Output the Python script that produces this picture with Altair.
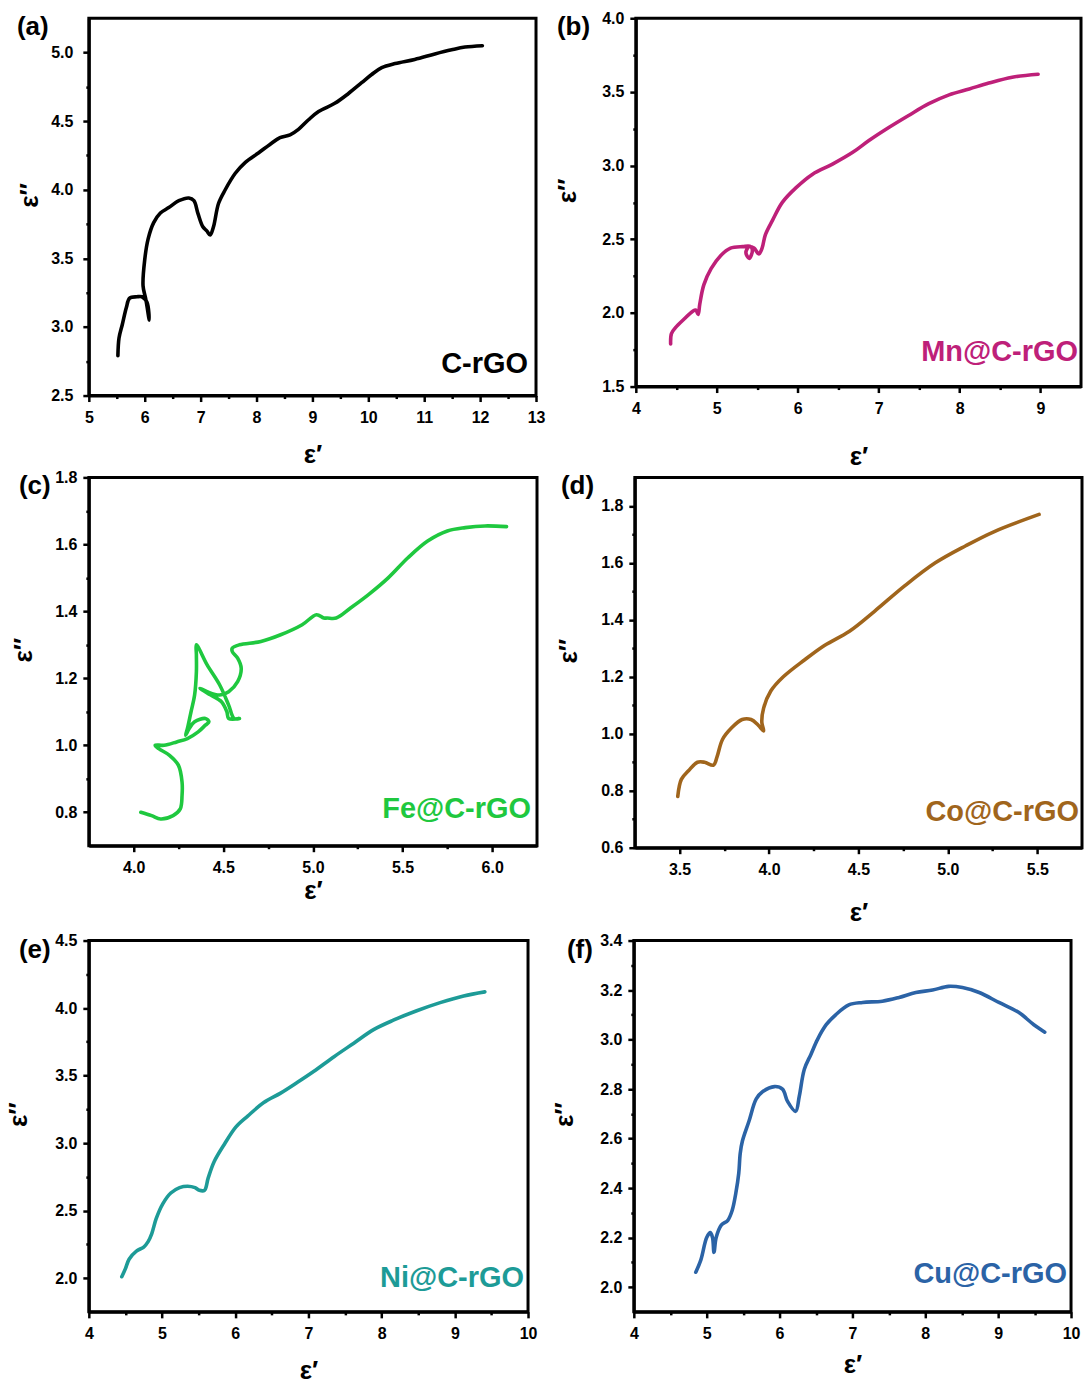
import altair as alt
import pandas as pd

FONT = "Liberation Sans"

# ---------------- data ----------------
a_x = [5.52,5.54,5.60,5.67,5.73,5.86,5.95,6.04,6.08,6.02,5.97,6.00,6.06,6.16,6.28,6.43,6.61,6.79,6.88,6.95,
       7.04,7.11,7.17,7.23,7.32,7.44,7.62,7.80,8.04,8.24,8.42,8.60,8.75,8.93,9.11,9.40,9.64,9.88,10.06,10.24,
       10.48,10.83,11.19,11.49,11.73,12.04]
a_y = [2.79,2.92,3.02,3.14,3.21,3.22,3.22,3.18,3.05,3.20,3.30,3.49,3.64,3.76,3.83,3.87,3.92,3.94,3.92,3.83,
       3.73,3.70,3.67,3.73,3.90,4.00,4.12,4.20,4.27,4.33,4.38,4.40,4.44,4.51,4.57,4.63,4.70,4.78,4.84,4.89,
       4.92,4.95,4.99,5.02,5.04,5.05]

b_x = [4.43,4.44,4.49,4.60,4.70,4.74,4.77,4.79,4.84,4.93,5.05,5.17,5.32,5.42,5.44,5.40,5.36,5.40,5.46,5.52,
       5.56,5.60,5.69,5.81,5.98,6.18,6.43,6.68,6.88,7.13,7.37,7.62,7.87,8.12,8.36,8.65,8.97]
b_y = [1.79,1.86,1.90,1.96,2.01,2.02,1.99,2.06,2.19,2.30,2.39,2.44,2.45,2.45,2.42,2.37,2.41,2.45,2.44,2.40,
       2.44,2.53,2.63,2.75,2.85,2.94,3.01,3.09,3.17,3.26,3.34,3.42,3.48,3.52,3.56,3.60,3.62]

c_x = [4.04,4.10,4.15,4.22,4.26,4.27,4.27,4.25,4.20,4.14,4.12,4.17,4.24,4.30,4.36,4.40,4.42,4.40,4.34,4.31,
       4.29,4.30,4.32,4.34,4.35,4.35,4.35,4.41,4.48,4.53,4.56,4.59,4.53,4.52,4.49,4.43,4.37,4.41,4.48,4.53,
       4.58,4.60,4.58,4.55,4.55,4.59,4.71,4.82,4.94,5.02,5.06,5.08,5.13,5.21,5.31,5.42,5.53,5.64,5.75,5.85,
       5.96,6.08]
c_y = [0.80,0.79,0.78,0.79,0.81,0.85,0.89,0.94,0.97,0.99,1.00,1.00,1.01,1.02,1.04,1.06,1.07,1.08,1.07,1.05,
       1.03,1.05,1.10,1.15,1.22,1.27,1.30,1.24,1.18,1.12,1.08,1.08,1.08,1.10,1.13,1.15,1.17,1.16,1.15,1.16,
       1.19,1.23,1.26,1.28,1.29,1.30,1.31,1.33,1.36,1.39,1.38,1.38,1.38,1.41,1.45,1.50,1.56,1.61,1.64,1.65,
       1.655,1.653]

d_x = [3.49,3.51,3.55,3.60,3.64,3.69,3.71,3.74,3.79,3.85,3.90,3.94,3.97,3.96,3.97,4.01,4.08,4.20,4.31,4.45,
       4.59,4.76,4.93,5.10,5.26,5.51]
d_y = [0.78,0.84,0.87,0.90,0.90,0.89,0.92,0.98,1.02,1.05,1.05,1.03,1.01,1.04,1.09,1.15,1.20,1.26,1.31,1.36,
       1.43,1.52,1.60,1.66,1.71,1.77]

e_x = [4.45,4.50,4.55,4.65,4.75,4.81,4.86,4.92,5.01,5.12,5.24,5.35,5.45,5.51,5.58,5.63,5.71,5.85,6.01,6.17,
       6.39,6.62,6.85,7.07,7.35,7.62,7.89,8.16,8.48,8.80,9.12,9.41]
e_y = [2.01,2.07,2.14,2.20,2.23,2.27,2.33,2.44,2.55,2.63,2.67,2.68,2.67,2.65,2.65,2.74,2.86,2.99,3.12,3.20,
       3.30,3.37,3.45,3.53,3.64,3.74,3.84,3.91,3.98,4.04,4.09,4.12]

f_x = [4.85,4.92,5.00,5.05,5.08,5.10,5.13,5.20,5.29,5.35,5.40,5.44,5.46,5.49,5.58,5.68,5.77,5.93,6.04,6.11,
       6.22,6.27,6.34,6.43,6.52,6.64,6.77,6.95,7.14,7.41,7.64,7.87,8.10,8.32,8.51,8.74,9.01,9.28,9.49,9.64]
f_y = [2.06,2.11,2.20,2.22,2.20,2.14,2.20,2.25,2.27,2.31,2.38,2.46,2.54,2.59,2.67,2.76,2.79,2.81,2.80,2.75,
       2.71,2.77,2.88,2.94,3.00,3.06,3.10,3.14,3.15,3.155,3.17,3.19,3.20,3.215,3.21,3.19,3.15,3.11,3.06,3.03]

names = ["C-rGO", "Mn@C-rGO", "Fe@C-rGO", "Co@C-rGO", "Ni@C-rGO", "Cu@C-rGO"]
letters = ["(a)", "(b)", "(c)", "(d)", "(e)", "(f)"]
colors = ["#000000", "#BE2079", "#1FC83F", "#A0651C", "#1D9B97", "#2B63A6"]

a_xticks = [5, 6, 7, 8, 9, 10, 11, 12, 13]
a_yticks = [2.5, 3.0, 3.5, 4.0, 4.5, 5.0]
b_xticks = [4, 5, 6, 7, 8, 9]
b_yticks = [1.5, 2.0, 2.5, 3.0, 3.5, 4.0]
c_xticks = [4.0, 4.5, 5.0, 5.5, 6.0]
c_yticks = [0.8, 1.0, 1.2, 1.4, 1.6, 1.8]
d_xticks = [3.5, 4.0, 4.5, 5.0, 5.5]
d_yticks = [0.6, 0.8, 1.0, 1.2, 1.4, 1.6, 1.8]
e_xticks = [4, 5, 6, 7, 8, 9, 10]
e_yticks = [2.0, 2.5, 3.0, 3.5, 4.0, 4.5]
f_xticks = [4, 5, 6, 7, 8, 9, 10]
f_yticks = [2.0, 2.2, 2.4, 2.6, 2.8, 3.0, 3.2, 3.4]

# ---------------- helpers ----------------
def tick_values(major, dom):
    step = major[1] - major[0]
    vals = set(round(v, 4) for v in major)
    for m in major:
        for v in (m - step / 2, m + step / 2):
            if dom[0] + 1e-6 < v < dom[1] - 1e-6:
                vals.add(round(v, 4))
    return sorted(vals)


def make_axis(title, major, dom, fmt, label_pad, title_pad, title_y=None):
    step = round(major[1] - major[0], 4)
    test = f"abs(datum.value/{step} - round(datum.value/{step})) < 0.001"
    kw = dict(
        title=title,
        values=tick_values(major, dom),
        labelExpr=f"({test}) ? format(datum.value, '{fmt}') : ''",
        tickSize={"condition": {"test": test, "value": 6}, "value": 3},
        labelPadding=label_pad,
        titlePadding=title_pad,
        labelFlush=False,
        labelOverlap=False,
        grid=False,
    )
    if title_y is not None:
        kw["titleY"] = title_y
    return alt.Axis(**kw)


def panel(xs, ys, idx, xdom, ydom, xmaj, ymaj, xfmt, yfmt, w, h,
          letter_dx, name_inset, name_off, ylab_pad, ytitle_pad, xtitle_pad):
    df = pd.DataFrame({"x": xs, "y": ys, "i": list(range(len(xs)))})
    line = alt.Chart(df).mark_line(
        color=colors[idx], strokeWidth=3.6, strokeCap="round", strokeJoin="round",
        interpolate="catmull-rom"
    ).encode(
        x=alt.X("x:Q", scale=alt.Scale(domain=xdom, nice=False, zero=False),
                axis=make_axis("ε′", xmaj, xdom, xfmt, 8, xtitle_pad)),
        y=alt.Y("y:Q", scale=alt.Scale(domain=ydom, nice=False, zero=False),
                axis=make_axis("ε′′", ymaj, ydom, yfmt, ylab_pad, ytitle_pad, h / 2 - 12)),
        order="i:Q",
    )
    name = alt.Chart(pd.DataFrame({"t": [names[idx]]})).mark_text(
        align="right", baseline="alphabetic", font=FONT, fontSize=29,
        fontWeight="bold", color=colors[idx]
    ).encode(x=alt.value(w - name_inset), y=alt.value(h - name_off), text="t:N")
    letter = alt.Chart(pd.DataFrame({"t": [letters[idx]]})).mark_text(
        align="left", baseline="top", font=FONT, fontSize=26,
        fontWeight="bold", color="black"
    ).encode(x=alt.value(letter_dx), y=alt.value(-4), text="t:N")
    return alt.layer(line, name, letter).properties(width=w, height=h)


pa = panel(a_x, a_y, 0, [5, 13], [2.5, 5.25], a_xticks, a_yticks, "d", ".1f", 448, 378,
           -72, 8, 23, 10, 8, 16)
pb = panel(b_x, b_y, 1, [4, 9.5], [1.5, 4.0], b_xticks, b_yticks, "d", ".1f", 446, 369,
           -79, 3, 26, 6, 21, 27)
pc = panel(c_x, c_y, 2, [3.75, 6.25], [0.7, 1.8], c_xticks, c_yticks, ".1f", ".1f", 449, 369,
           -70, 6, 28, 6, 18, 2)
pd_ = panel(d_x, d_y, 3, [3.25, 5.75], [0.6, 1.9], d_xticks, d_yticks, ".1f", ".1f", 448, 371,
            -74, 3, 27, 6, 19, 22)
pe = panel(e_x, e_y, 4, [4, 10], [1.75, 4.5], e_xticks, e_yticks, "d", ".1f", 440, 372,
           -70, 4, 25, 6, 23, 16)
pf = panel(f_x, f_y, 5, [4, 10], [1.9, 3.4], f_xticks, f_yticks, "d", ".1f", 438, 372,
           -67, 4, 29, 6, 22, 10)

row1 = alt.hconcat(pa, pb, spacing=6)
row2 = alt.hconcat(pc, pd_, spacing=15)
row3 = alt.hconcat(pe, pf, spacing=11)

top_rows = alt.vconcat(row1, row2, spacing=-4)

chart = alt.vconcat(top_rows, row3, spacing=3).properties(
    padding={"left": 4, "top": 7, "right": 0, "bottom": 0},
    background="white",
).configure_view(
    stroke="black", strokeWidth=3
).configure_axis(
    domainColor="black", domainWidth=3, tickColor="black", tickWidth=2.5,
    labelFont=FONT, labelFontSize=16, labelFontWeight="bold", labelColor="black",
    titleFont=FONT, titleFontSize=26, titleFontWeight="bold", titleColor="black",
)

chart.save("out.html", embed_options={"renderer": "svg", "actions": False})
